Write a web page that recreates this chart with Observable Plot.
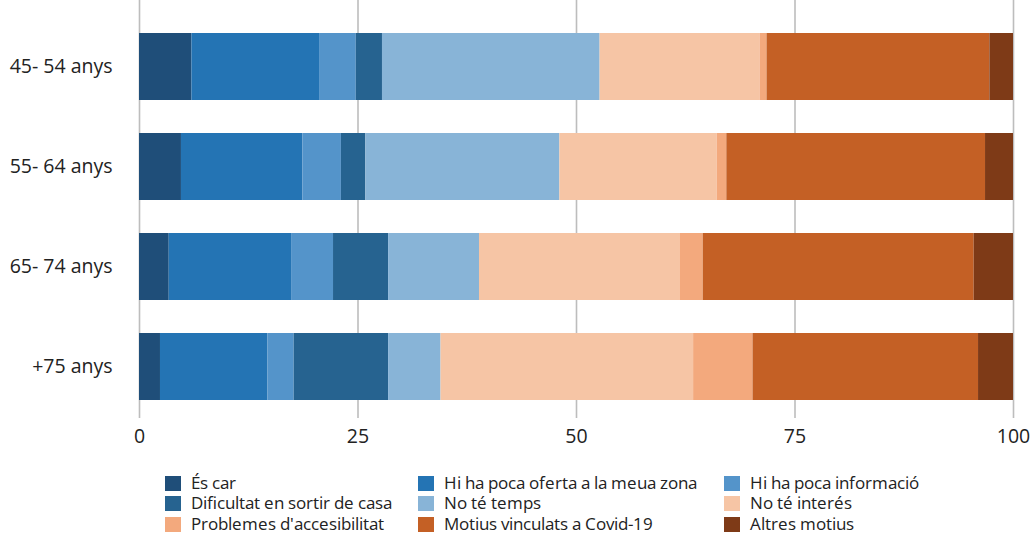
<!DOCTYPE html>
<html>
<head>
<meta charset="utf-8">
<script src="https://cdn.jsdelivr.net/npm/d3@7"></script>
<script src="https://cdn.jsdelivr.net/npm/@observablehq/plot@0.6"></script>
<style>
  @font-face {
    font-family: "OpenSansTight";
    src: local("Open Sans Regular"), local("OpenSans-Regular"), local("Open Sans");
    ascent-override: 86%;
    descent-override: 22%;
    line-gap-override: 0%;
  }
  html, body { margin: 0; padding: 0; background: #ffffff; }
  body { width: 1033px; height: 536px; overflow: hidden; font-family: "Open Sans", sans-serif; color: #222; }
  #legend {
    display: grid;
    grid-template-columns: 253px 306px auto;
    grid-auto-rows: 20.5px;
    padding-left: 165px;
    margin-top: 23px;
    font-family: "OpenSansTight", "Open Sans", sans-serif;
    font-size: 17.4px;
    color: #222;
  }
  .item { display: flex; align-items: center; white-space: nowrap; height: 20.5px; }
  .sw { width: 16px; height: 15px; margin-right: 10px; flex: none; }
  .lab { display: inline-block; height: 17px; line-height: 17px; overflow: visible; }
</style>
</head>
<body>
<div id="chart"></div>
<div id="legend"></div>
<script>
const categories = ["45- 54 anys", "55- 64 anys", "65- 74 anys", "+75 anys"];
const seriesNames = [
  "És car",
  "Hi ha poca oferta a la meua zona",
  "Hi ha poca informació",
  "Dificultat en sortir de casa",
  "No té temps",
  "No té interés",
  "Problemes d'accesibilitat",
  "Motius vinculats a Covid-19",
  "Altres motius"
];
const esCar         = [6.0, 4.8, 3.4, 2.4];
const ofertaZona    = [14.6, 13.9, 14.0, 12.3];
const pocaInfo      = [4.2, 4.4, 4.8, 3.0];
const dificultat    = [3.0, 2.8, 6.3, 10.8];
const noTemps       = [24.9, 22.2, 10.4, 6.0];
const noInteres     = [18.3, 18.0, 23.0, 28.9];
const accesibilitat = [0.8, 1.1, 2.6, 6.8];
const covid         = [25.5, 29.6, 31.0, 25.8];
const altres        = [2.7, 3.2, 4.5, 4.0];
const xTicks = [0, 25, 50, 75, 100];
const colors = ["#1f4e79", "#2474b4", "#5494ca", "#266390", "#88b4d7", "#f6c5a5", "#f3a97d", "#c46025", "#7e3a17"];

const seriesValues = [esCar, ofertaZona, pocaInfo, dificultat, noTemps, noInteres, accesibilitat, covid, altres];
const rows = [];
seriesNames.forEach((s, i) => {
  categories.forEach((c, j) => rows.push({category: c, series: s, value: seriesValues[i][j]}));
});

const chart = Plot.plot({
  width: 1033,
  height: 450,
  marginTop: 0,
  marginBottom: 32,
  marginLeft: 139,
  marginRight: 20,
  style: {fontFamily: "'Open Sans', sans-serif", fontSize: "19.5px", color: "#222", background: "transparent"},
  x: {domain: [0, 100], ticks: xTicks, label: null, tickSize: 0, tickPadding: 11},
  y: {domain: categories, range: [0, 432.5], paddingInner: 0.332, paddingOuter: 0.322, label: null, tickSize: 0, tickPadding: 27},
  color: {domain: seriesNames, range: colors},
  marks: [
    Plot.gridX(xTicks, {stroke: "#bdbdbd", strokeOpacity: 1, strokeWidth: 1.6}),
    Plot.barX(rows, Plot.stackX({y: "category", x: "value", fill: "series", order: null})),
    Plot.axisX({ticks: xTicks, tickSize: 0, tickPadding: 11, fontSize: 19.5}),
    Plot.axisY({tickSize: 0, tickPadding: 27, fontSize: 19.5})
  ]
});
document.getElementById("chart").appendChild(chart);

const legend = document.getElementById("legend");
seriesNames.forEach((s, i) => {
  const item = document.createElement("div");
  item.className = "item";
  const sw = document.createElement("span");
  sw.className = "sw";
  sw.style.background = colors[i];
  const t = document.createElement("span");
  t.className = "lab";
  t.textContent = s;
  item.appendChild(sw);
  item.appendChild(t);
  legend.appendChild(item);
});
</script>
</body>
</html>
